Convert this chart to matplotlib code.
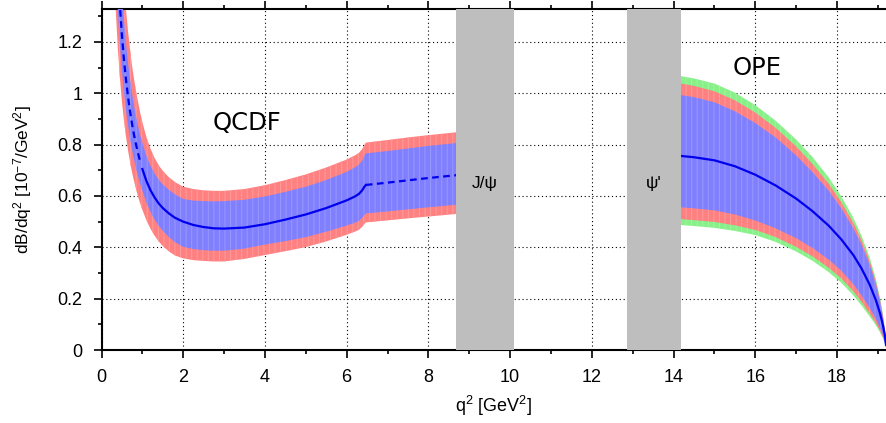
import matplotlib
matplotlib.use("Agg")
import matplotlib.pyplot as plt
from matplotlib.ticker import MultipleLocator, FuncFormatter
import numpy as np

plt.rcParams['font.family'] = ['Liberation Sans', 'DejaVu Sans']
plt.rcParams['mathtext.fontset'] = 'custom'
plt.rcParams['mathtext.rm'] = 'Liberation Sans'
plt.rcParams['mathtext.default'] = 'regular'
plt.rcParams['hatch.linewidth'] = 0.7

# --- QCDF region (low q^2) ---
q2_qcdf = [0.30, 0.35, 0.40, 0.45, 0.50, 0.55, 0.60, 0.65, 0.70, 0.75,
           0.80, 0.85, 0.90, 0.95, 1.00, 1.10, 1.20, 1.30, 1.40, 1.50,
           1.65, 1.80, 2.00, 2.25, 2.50, 2.75, 3.00, 3.50, 4.00, 4.50,
           5.00, 5.50, 6.00, 6.20, 6.30, 6.38, 6.43, 6.47, 7.00, 7.50,
           8.00, 8.68]
qcdf_central = [1.918, 1.671, 1.485, 1.341, 1.225, 1.130, 1.052, 0.985, 0.928, 0.878,
                0.835, 0.797, 0.763, 0.732, 0.705, 0.658, 0.622, 0.594, 0.571, 0.553,
                0.532, 0.515, 0.500, 0.487, 0.479, 0.474, 0.473, 0.477, 0.490, 0.508,
                0.528, 0.553, 0.583, 0.598, 0.608, 0.622, 0.635, 0.643, 0.652, 0.661,
                0.670, 0.681]
qcdf_red_hi = [2.42, 2.11, 1.87, 1.69, 1.545, 1.425, 1.325, 1.24, 1.17, 1.105,
               1.052, 1.004, 0.962, 0.922, 0.888, 0.829, 0.784, 0.748, 0.72, 0.698,
               0.673, 0.654, 0.636, 0.627, 0.622, 0.620, 0.620, 0.627, 0.642, 0.662,
               0.684, 0.711, 0.742, 0.758, 0.768, 0.783, 0.798, 0.808, 0.818, 0.828,
               0.837, 0.848]
qcdf_blue_hi = [2.17, 1.89, 1.68, 1.515, 1.385, 1.28, 1.19, 1.115, 1.05, 0.995,
                0.947, 0.905, 0.868, 0.835, 0.806, 0.756, 0.717, 0.687, 0.663, 0.645,
                0.624, 0.606, 0.588, 0.582, 0.580, 0.579, 0.580, 0.585, 0.598, 0.616,
                0.636, 0.662, 0.694, 0.711, 0.722, 0.738, 0.755, 0.766, 0.775, 0.785,
                0.795, 0.806]
qcdf_blue_lo = [1.707, 1.487, 1.322, 1.193, 1.09, 1.006, 0.936, 0.875, 0.824, 0.779,
                0.74, 0.705, 0.674, 0.645, 0.62, 0.574, 0.538, 0.508, 0.484, 0.464,
                0.440, 0.42, 0.402, 0.393, 0.389, 0.387, 0.387, 0.395, 0.411, 0.424,
                0.440, 0.461, 0.485, 0.496, 0.503, 0.515, 0.525, 0.532, 0.540, 0.548,
                0.556, 0.566]
qcdf_red_lo = [1.515, 1.32, 1.173, 1.06, 0.968, 0.893, 0.831, 0.777, 0.73, 0.69,
               0.655, 0.624, 0.595, 0.569, 0.546, 0.505, 0.472, 0.445, 0.423, 0.405,
               0.384, 0.368, 0.357, 0.350, 0.347, 0.345, 0.345, 0.355, 0.370, 0.385,
               0.401, 0.423, 0.449, 0.461, 0.468, 0.48, 0.49, 0.497, 0.505, 0.513,
               0.52, 0.53]

# --- OPE region (high q^2) ---
q2_ope = [14.18, 14.5, 15.0, 15.5, 16.0, 16.5, 17.0, 17.4, 17.8, 18.1,
          18.4, 18.6, 18.8, 18.95, 19.05, 19.12, 19.17, 19.2]
ope_central = [0.756, 0.751, 0.739, 0.716, 0.683, 0.641, 0.590, 0.541, 0.484, 0.432,
               0.37, 0.318, 0.255, 0.195, 0.145, 0.10, 0.06, 0.02]
ope_green_hi = [1.067, 1.058, 1.038, 1.003, 0.954, 0.893, 0.82, 0.752, 0.672, 0.600,
                0.515, 0.445, 0.36, 0.278, 0.207, 0.143, 0.087, 0.03]
ope_red_hi = [1.038, 1.029, 1.008, 0.973, 0.925, 0.865, 0.793, 0.725, 0.647, 0.577,
              0.495, 0.428, 0.346, 0.266, 0.198, 0.137, 0.083, 0.028]
ope_blue_hi = [0.993, 0.985, 0.965, 0.93, 0.884, 0.828, 0.758, 0.693, 0.62, 0.553,
               0.474, 0.41, 0.332, 0.256, 0.19, 0.131, 0.079, 0.026]
ope_blue_lo = [0.556, 0.552, 0.544, 0.528, 0.505, 0.474, 0.436, 0.398, 0.352, 0.31,
               0.257, 0.213, 0.164, 0.122, 0.088, 0.06, 0.035, 0.012]
ope_red_lo = [0.510, 0.506, 0.499, 0.486, 0.468, 0.44, 0.402, 0.365, 0.32, 0.28,
              0.229, 0.188, 0.143, 0.106, 0.077, 0.052, 0.03, 0.01]
ope_green_lo = [0.487, 0.483, 0.476, 0.464, 0.448, 0.421, 0.384, 0.348, 0.303, 0.263,
                0.213, 0.174, 0.131, 0.097, 0.07, 0.047, 0.027, 0.009]

# resonance vetoes
veto_lo = [8.68, 12.86]
veto_hi = [10.09, 14.18]
veto_labels = ['J/\u03c8', "\u03c8'"]

RED, RED_STRIPE = '#ff8080', '#ff9c9c'
BLUE, BLUE_STRIPE = '#8080ff', '#9898ff'
GREEN, GREEN_STRIPE = '#88f088', '#a2f5a2'

fig = plt.figure(figsize=(8.86, 4.23), dpi=100)
ax = fig.add_axes([101.5 / 886, 73 / 423, 784.5 / 886, 341 / 423])

x1 = np.array(q2_qcdf)
x2 = np.array(q2_ope)

def band(x, lo, hi, col, stripe, z):
    ax.fill_between(x, lo, hi, facecolor=col, edgecolor=stripe, hatch='|||',
                    linewidth=0, zorder=z)

band(x1, qcdf_red_lo, qcdf_red_hi, RED, RED_STRIPE, 2)
band(x1, qcdf_blue_lo, qcdf_blue_hi, BLUE, BLUE_STRIPE, 3)
band(x2, ope_green_lo, ope_green_hi, GREEN, GREEN_STRIPE, 2)
band(x2, ope_red_lo, ope_red_hi, RED, RED_STRIPE, 3)
band(x2, ope_blue_lo, ope_blue_hi, BLUE, BLUE_STRIPE, 4)

# central lines: dashed outside QCDF validity
c1 = np.array(qcdf_central)
m_left = x1 <= 0.95
m_mid = (x1 >= 1.0) & (x1 <= 6.47)
m_right = x1 >= 6.47
ax.plot(x1[m_left], c1[m_left], color='#0000ee', lw=1.6, ls=(0, (3, 2)), zorder=5)
ax.plot(x1[m_mid], c1[m_mid], color='#0000ee', lw=1.6, zorder=5)
ax.plot(x1[m_right], c1[m_right], color='#0000ee', lw=1.6, ls=(0, (3, 2)), zorder=5)
ax.plot(x2, ope_central, color='#0000ee', lw=1.6, zorder=5)

for lo, hi, lab in zip(veto_lo, veto_hi, veto_labels):
    ax.axvspan(lo, hi, color='#bebebe', lw=0, zorder=6)
    ax.text((lo + hi) / 2, 0.65, lab, ha='center', va='center', fontsize=12.5, zorder=7)

ax.text(3.55, 0.885, 'QCDF', fontsize=17.5, family='DejaVu Sans', ha='center', va='center')
ax.text(16.05, 1.10, 'OPE', fontsize=17.5, family='DejaVu Sans', ha='center', va='center')

ax.set_xlim(0, 19.2)
ax.set_ylim(0, 1.3285)
ax.xaxis.set_major_locator(MultipleLocator(2))
ax.xaxis.set_minor_locator(MultipleLocator(1))
ax.yaxis.set_major_locator(MultipleLocator(0.2))
ax.yaxis.set_minor_locator(MultipleLocator(0.1))
ax.yaxis.set_major_formatter(FuncFormatter(lambda v, p: '%g' % round(v, 2)))

ax.grid(which='major', ls=(0, (1, 2.5)), color='black', lw=0.8, zorder=0)
ax.set_axisbelow(True)

for s in ['left', 'bottom', 'top']:
    ax.spines[s].set_linewidth(1.5)
ax.spines['right'].set_visible(False)

ax.tick_params(which='both', direction='out', top=True, labelsize=13, width=1.2)
ax.tick_params(axis='x', which='major', length=5.5, pad=8.5)
ax.tick_params(axis='y', which='major', length=5.5, pad=8.0)
ax.tick_params(which='minor', length=3.2)

ax.set_xlabel('q$^2$ [GeV$^2$]', fontsize=13)
ax.set_ylabel('dB/dq$^2$ [10$^{-7}$/GeV$^2$]', fontsize=12.5)
ax.xaxis.set_label_coords(0.5, -0.13)
ax.yaxis.set_label_coords(-0.086, 0.5)

fig.savefig('out.png', dpi=100)
